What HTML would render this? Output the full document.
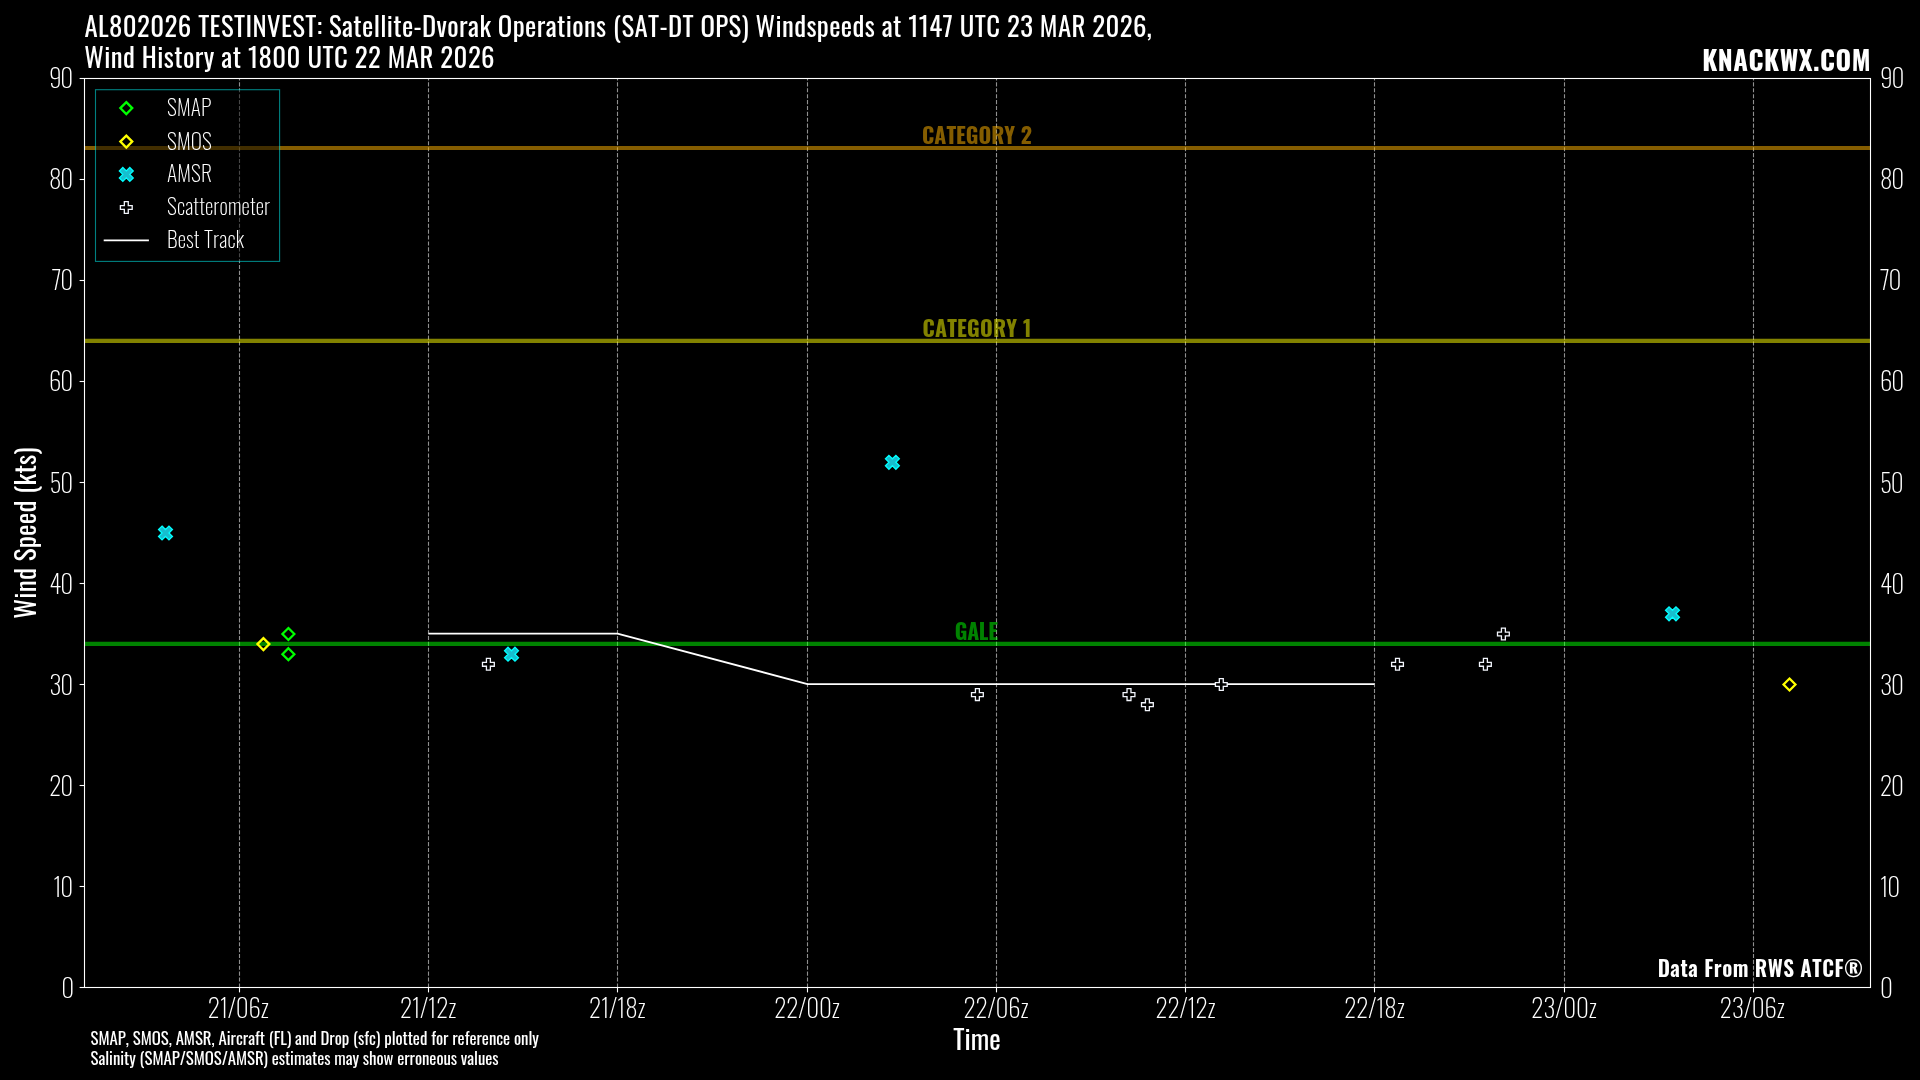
<!DOCTYPE html><html><head><meta charset="utf-8"><title>AL802026 SAT-DT OPS Windspeeds</title>
<style>html,body{margin:0;padding:0;background:#000;width:1920px;height:1080px;overflow:hidden}svg{display:block;will-change:transform}text{font-family:Oswald, 'DejaVu Sans Condensed', 'Liberation Sans', sans-serif;font-kerning:none}</style></head><body>
<svg width="1920" height="1080" viewBox="0 0 1920 1080">
<rect x="0" y="0" width="1920" height="1080" fill="#000"/>
<line x1="239.5" x2="239.5" y1="987.5" y2="78.5" stroke="#fff" stroke-opacity="0.56" stroke-width="1.1" stroke-dasharray="4.111 1.778"/>
<line x1="428.5" x2="428.5" y1="987.5" y2="78.5" stroke="#fff" stroke-opacity="0.56" stroke-width="1.1" stroke-dasharray="4.111 1.778"/>
<line x1="617.5" x2="617.5" y1="987.5" y2="78.5" stroke="#fff" stroke-opacity="0.56" stroke-width="1.1" stroke-dasharray="4.111 1.778"/>
<line x1="807.5" x2="807.5" y1="987.5" y2="78.5" stroke="#fff" stroke-opacity="0.56" stroke-width="1.1" stroke-dasharray="4.111 1.778"/>
<line x1="996.5" x2="996.5" y1="987.5" y2="78.5" stroke="#fff" stroke-opacity="0.56" stroke-width="1.1" stroke-dasharray="4.111 1.778"/>
<line x1="1185.5" x2="1185.5" y1="987.5" y2="78.5" stroke="#fff" stroke-opacity="0.56" stroke-width="1.1" stroke-dasharray="4.111 1.778"/>
<line x1="1374.5" x2="1374.5" y1="987.5" y2="78.5" stroke="#fff" stroke-opacity="0.56" stroke-width="1.1" stroke-dasharray="4.111 1.778"/>
<line x1="1564.5" x2="1564.5" y1="987.5" y2="78.5" stroke="#fff" stroke-opacity="0.56" stroke-width="1.1" stroke-dasharray="4.111 1.778"/>
<line x1="1753.5" x2="1753.5" y1="987.5" y2="78.5" stroke="#fff" stroke-opacity="0.56" stroke-width="1.1" stroke-dasharray="4.111 1.778"/>
<line x1="84.5" x2="1870.5" y1="148.00" y2="148.00" stroke="#ffb300" stroke-opacity="0.52" stroke-width="4.2"/>
<line x1="84.5" x2="1870.5" y1="340.80" y2="340.80" stroke="#ffff00" stroke-opacity="0.51" stroke-width="4.2"/>
<line x1="84.5" x2="1870.5" y1="643.90" y2="643.90" stroke="#00ff00" stroke-opacity="0.51" stroke-width="4.2"/>
<text x="977" y="143.8" font-size="21.8" font-weight="700" fill="#ffb300" text-anchor="middle" fill-opacity="0.52" textLength="109.8" lengthAdjust="spacingAndGlyphs">CATEGORY 2</text>
<text x="977" y="336.8" font-size="21.8" font-weight="700" fill="#ffff00" letter-spacing="0.2" text-anchor="middle" fill-opacity="0.51" textLength="108.98" lengthAdjust="spacingAndGlyphs">CATEGORY 1</text>
<text x="976.2" y="639.8" font-size="21.8" font-weight="700" fill="#00ff00" letter-spacing="-0.35" text-anchor="middle" fill-opacity="0.51" textLength="42.7" lengthAdjust="spacingAndGlyphs">GALE</text>
<text x="1863.5" y="976.6" font-size="21.3" font-weight="600" fill="#fff" letter-spacing="0.52" text-anchor="end" textLength="205.86" lengthAdjust="spacingAndGlyphs">Data From RWS ATCF®</text>
<polyline points="428.5,633.55 617.5,633.55 807.5,684.05 1374.5,684.05" fill="none" stroke="#fff" stroke-width="1.8" stroke-linejoin="round"/>
<path d="M263.4,638.15 L269.35,644.1 L263.4,650.05 L257.45,644.1Z" fill="none" stroke="#ffff00" stroke-width="2.3" stroke-linejoin="miter"/>
<path d="M1789.5,678.55 L1795.45,684.5 L1789.5,690.45 L1783.55,684.5Z" fill="none" stroke="#ffff00" stroke-width="2.3" stroke-linejoin="miter"/>
<path d="M288.4,628.05 L294.35,634.0 L288.4,639.95 L282.45,634.0Z" fill="none" stroke="#00ff00" stroke-width="2.3" stroke-linejoin="miter"/>
<path d="M288.4,648.25 L294.35,654.2 L288.4,660.15 L282.45,654.2Z" fill="none" stroke="#00ff00" stroke-width="2.3" stroke-linejoin="miter"/>
<path d="M162.03,526.05 L165.50,529.52 L168.97,526.05 L172.45,529.52 L168.97,533.00 L172.45,536.48 L168.97,539.95 L165.50,536.48 L162.03,539.95 L158.55,536.48 L162.03,533.00 L158.55,529.52Z" fill="#17becf" stroke="#00ffff" stroke-width="1.3" stroke-linejoin="miter"/>
<path d="M508.02,647.25 L511.50,650.73 L514.98,647.25 L518.45,650.73 L514.98,654.20 L518.45,657.68 L514.98,661.15 L511.50,657.68 L508.02,661.15 L504.55,657.68 L508.02,654.20 L504.55,650.73Z" fill="#17becf" stroke="#00ffff" stroke-width="1.3" stroke-linejoin="miter"/>
<path d="M888.92,455.35 L892.40,458.83 L895.88,455.35 L899.35,458.83 L895.88,462.30 L899.35,465.78 L895.88,469.25 L892.40,465.78 L888.92,469.25 L885.45,465.78 L888.92,462.30 L885.45,458.83Z" fill="#17becf" stroke="#00ffff" stroke-width="1.3" stroke-linejoin="miter"/>
<path d="M1669.03,606.85 L1672.50,610.32 L1675.97,606.85 L1679.45,610.32 L1675.97,613.80 L1679.45,617.27 L1675.97,620.75 L1672.50,617.27 L1669.03,620.75 L1665.55,617.27 L1669.03,613.80 L1665.55,610.32Z" fill="#17becf" stroke="#00ffff" stroke-width="1.3" stroke-linejoin="miter"/>
<path d="M486.43,658.40 L490.37,658.40 L490.37,662.33 L494.30,662.33 L494.30,666.27 L490.37,666.27 L490.37,670.20 L486.43,670.20 L486.43,666.27 L482.50,666.27 L482.50,662.33 L486.43,662.33Z" fill="#000" stroke="#f2f5fc" stroke-width="1.3" stroke-linejoin="miter"/>
<path d="M975.43,688.70 L979.37,688.70 L979.37,692.63 L983.30,692.63 L983.30,696.57 L979.37,696.57 L979.37,700.50 L975.43,700.50 L975.43,696.57 L971.50,696.57 L971.50,692.63 L975.43,692.63Z" fill="#000" stroke="#f2f5fc" stroke-width="1.3" stroke-linejoin="miter"/>
<path d="M1127.03,688.70 L1130.97,688.70 L1130.97,692.63 L1134.90,692.63 L1134.90,696.57 L1130.97,696.57 L1130.97,700.50 L1127.03,700.50 L1127.03,696.57 L1123.10,696.57 L1123.10,692.63 L1127.03,692.63Z" fill="#000" stroke="#f2f5fc" stroke-width="1.3" stroke-linejoin="miter"/>
<path d="M1145.43,698.80 L1149.37,698.80 L1149.37,702.73 L1153.30,702.73 L1153.30,706.67 L1149.37,706.67 L1149.37,710.60 L1145.43,710.60 L1145.43,706.67 L1141.50,706.67 L1141.50,702.73 L1145.43,702.73Z" fill="#000" stroke="#f2f5fc" stroke-width="1.3" stroke-linejoin="miter"/>
<path d="M1219.33,678.60 L1223.27,678.60 L1223.27,682.53 L1227.20,682.53 L1227.20,686.47 L1223.27,686.47 L1223.27,690.40 L1219.33,690.40 L1219.33,686.47 L1215.40,686.47 L1215.40,682.53 L1219.33,682.53Z" fill="#000" stroke="#f2f5fc" stroke-width="1.3" stroke-linejoin="miter"/>
<path d="M1395.53,658.40 L1399.47,658.40 L1399.47,662.33 L1403.40,662.33 L1403.40,666.27 L1399.47,666.27 L1399.47,670.20 L1395.53,670.20 L1395.53,666.27 L1391.60,666.27 L1391.60,662.33 L1395.53,662.33Z" fill="#000" stroke="#f2f5fc" stroke-width="1.3" stroke-linejoin="miter"/>
<path d="M1483.43,658.40 L1487.37,658.40 L1487.37,662.33 L1491.30,662.33 L1491.30,666.27 L1487.37,666.27 L1487.37,670.20 L1483.43,670.20 L1483.43,666.27 L1479.50,666.27 L1479.50,662.33 L1483.43,662.33Z" fill="#000" stroke="#f2f5fc" stroke-width="1.3" stroke-linejoin="miter"/>
<path d="M1501.43,628.10 L1505.37,628.10 L1505.37,632.03 L1509.30,632.03 L1509.30,635.97 L1505.37,635.97 L1505.37,639.90 L1501.43,639.90 L1501.43,635.97 L1497.50,635.97 L1497.50,632.03 L1501.43,632.03Z" fill="#000" stroke="#f2f5fc" stroke-width="1.3" stroke-linejoin="miter"/>
<rect x="84.5" y="78.5" width="1786.0" height="909.0" fill="none" stroke="#fff" stroke-width="1.1"/>
<line x1="79.6" x2="84.5" y1="987.5" y2="987.5" stroke="#fff" stroke-width="1.1"/>
<line x1="79.6" x2="84.5" y1="886.5" y2="886.5" stroke="#fff" stroke-width="1.1"/>
<line x1="79.6" x2="84.5" y1="785.5" y2="785.5" stroke="#fff" stroke-width="1.1"/>
<line x1="79.6" x2="84.5" y1="684.5" y2="684.5" stroke="#fff" stroke-width="1.1"/>
<line x1="79.6" x2="84.5" y1="583.5" y2="583.5" stroke="#fff" stroke-width="1.1"/>
<line x1="79.6" x2="84.5" y1="482.5" y2="482.5" stroke="#fff" stroke-width="1.1"/>
<line x1="79.6" x2="84.5" y1="381.5" y2="381.5" stroke="#fff" stroke-width="1.1"/>
<line x1="79.6" x2="84.5" y1="280.5" y2="280.5" stroke="#fff" stroke-width="1.1"/>
<line x1="79.6" x2="84.5" y1="179.5" y2="179.5" stroke="#fff" stroke-width="1.1"/>
<line x1="79.6" x2="84.5" y1="78.5" y2="78.5" stroke="#fff" stroke-width="1.1"/>
<line x1="239.5" x2="239.5" y1="987.5" y2="992.4" stroke="#fff" stroke-width="1.1"/>
<line x1="428.5" x2="428.5" y1="987.5" y2="992.4" stroke="#fff" stroke-width="1.1"/>
<line x1="617.5" x2="617.5" y1="987.5" y2="992.4" stroke="#fff" stroke-width="1.1"/>
<line x1="807.5" x2="807.5" y1="987.5" y2="992.4" stroke="#fff" stroke-width="1.1"/>
<line x1="996.5" x2="996.5" y1="987.5" y2="992.4" stroke="#fff" stroke-width="1.1"/>
<line x1="1185.5" x2="1185.5" y1="987.5" y2="992.4" stroke="#fff" stroke-width="1.1"/>
<line x1="1374.5" x2="1374.5" y1="987.5" y2="992.4" stroke="#fff" stroke-width="1.1"/>
<line x1="1564.5" x2="1564.5" y1="987.5" y2="992.4" stroke="#fff" stroke-width="1.1"/>
<line x1="1753.5" x2="1753.5" y1="987.5" y2="992.4" stroke="#fff" stroke-width="1.1"/>
<text x="74.2" y="997.6" font-size="25.0" font-weight="200" fill="#fff" text-anchor="end" textLength="12.94" lengthAdjust="spacingAndGlyphs">0</text>
<text x="1880.1" y="997.6" font-size="25.0" font-weight="200" fill="#fff" textLength="12.94" lengthAdjust="spacingAndGlyphs">0</text>
<text x="72.0" y="896.6" font-size="25.0" font-weight="200" fill="#fff" letter-spacing="-1.2" text-anchor="end" textLength="18.78" lengthAdjust="spacingAndGlyphs">10</text>
<text x="1880.1" y="896.6" font-size="25.0" font-weight="200" fill="#fff" letter-spacing="-1.2" textLength="18.78" lengthAdjust="spacingAndGlyphs">10</text>
<text x="72.0" y="795.6" font-size="25.0" font-weight="200" fill="#fff" letter-spacing="-1.2" text-anchor="end" textLength="22.77" lengthAdjust="spacingAndGlyphs">20</text>
<text x="1880.1" y="795.6" font-size="25.0" font-weight="200" fill="#fff" letter-spacing="-1.2" textLength="22.77" lengthAdjust="spacingAndGlyphs">20</text>
<text x="72.0" y="694.6" font-size="25.0" font-weight="200" fill="#fff" letter-spacing="-1.2" text-anchor="end" textLength="22.66" lengthAdjust="spacingAndGlyphs">30</text>
<text x="1880.1" y="694.6" font-size="25.0" font-weight="200" fill="#fff" letter-spacing="-1.2" textLength="22.66" lengthAdjust="spacingAndGlyphs">30</text>
<text x="72.0" y="593.6" font-size="25.0" font-weight="200" fill="#fff" letter-spacing="-1.2" text-anchor="end" textLength="22.86" lengthAdjust="spacingAndGlyphs">40</text>
<text x="1880.1" y="593.6" font-size="25.0" font-weight="200" fill="#fff" letter-spacing="-1.2" textLength="22.86" lengthAdjust="spacingAndGlyphs">40</text>
<text x="72.0" y="492.6" font-size="25.0" font-weight="200" fill="#fff" letter-spacing="-1.2" text-anchor="end" textLength="22.45" lengthAdjust="spacingAndGlyphs">50</text>
<text x="1880.1" y="492.6" font-size="25.0" font-weight="200" fill="#fff" letter-spacing="-1.2" textLength="22.45" lengthAdjust="spacingAndGlyphs">50</text>
<text x="72.0" y="390.6" font-size="25.0" font-weight="200" fill="#fff" letter-spacing="-1.2" text-anchor="end" textLength="22.94" lengthAdjust="spacingAndGlyphs">60</text>
<text x="1880.1" y="390.6" font-size="25.0" font-weight="200" fill="#fff" letter-spacing="-1.2" textLength="22.94" lengthAdjust="spacingAndGlyphs">60</text>
<text x="72.0" y="289.6" font-size="25.0" font-weight="200" fill="#fff" letter-spacing="-1.2" text-anchor="end" textLength="20.19" lengthAdjust="spacingAndGlyphs">70</text>
<text x="1880.1" y="289.6" font-size="25.0" font-weight="200" fill="#fff" letter-spacing="-1.2" textLength="20.19" lengthAdjust="spacingAndGlyphs">70</text>
<text x="72.0" y="188.6" font-size="25.0" font-weight="200" fill="#fff" letter-spacing="-1.2" text-anchor="end" textLength="23.02" lengthAdjust="spacingAndGlyphs">80</text>
<text x="1880.1" y="188.6" font-size="25.0" font-weight="200" fill="#fff" letter-spacing="-1.2" textLength="23.02" lengthAdjust="spacingAndGlyphs">80</text>
<text x="72.0" y="87.6" font-size="25.0" font-weight="200" fill="#fff" letter-spacing="-1.2" text-anchor="end" textLength="23.06" lengthAdjust="spacingAndGlyphs">90</text>
<text x="1880.1" y="87.6" font-size="25.0" font-weight="200" fill="#fff" letter-spacing="-1.2" textLength="23.06" lengthAdjust="spacingAndGlyphs">90</text>
<text x="238.2" y="1017.7" font-size="25.0" font-weight="200" fill="#fff" letter-spacing="-0.2" text-anchor="middle" textLength="60.95" lengthAdjust="spacingAndGlyphs">21/06z</text>
<text x="428.05" y="1017.7" font-size="25.0" font-weight="200" fill="#fff" letter-spacing="-0.2" text-anchor="middle" textLength="56.11" lengthAdjust="spacingAndGlyphs">21/12z</text>
<text x="617.2" y="1017.7" font-size="25.0" font-weight="200" fill="#fff" letter-spacing="-0.2" text-anchor="middle" textLength="56.36" lengthAdjust="spacingAndGlyphs">21/18z</text>
<text x="806.95" y="1017.7" font-size="25.0" font-weight="200" fill="#fff" letter-spacing="-0.2" text-anchor="middle" textLength="65.45" lengthAdjust="spacingAndGlyphs">22/00z</text>
<text x="995.95" y="1017.7" font-size="25.0" font-weight="200" fill="#fff" letter-spacing="-0.2" text-anchor="middle" textLength="64.94" lengthAdjust="spacingAndGlyphs">22/06z</text>
<text x="1185.45" y="1017.7" font-size="25.0" font-weight="200" fill="#fff" letter-spacing="-0.2" text-anchor="middle" textLength="60.08" lengthAdjust="spacingAndGlyphs">22/12z</text>
<text x="1374.4" y="1017.7" font-size="25.0" font-weight="200" fill="#fff" letter-spacing="-0.2" text-anchor="middle" textLength="60.33" lengthAdjust="spacingAndGlyphs">22/18z</text>
<text x="1563.9" y="1017.7" font-size="25.0" font-weight="200" fill="#fff" letter-spacing="-0.2" text-anchor="middle" textLength="65.36" lengthAdjust="spacingAndGlyphs">23/00z</text>
<text x="1752.2" y="1017.7" font-size="25.0" font-weight="200" fill="#fff" letter-spacing="-0.2" text-anchor="middle" textLength="64.83" lengthAdjust="spacingAndGlyphs">23/06z</text>
<text x="977" y="1049.9" font-size="27.2" font-weight="400" fill="#fff" text-anchor="middle" textLength="47.39" lengthAdjust="spacingAndGlyphs">Time</text>
<text transform="translate(36.1,533) rotate(-90)" font-size="27.2" font-weight="400" fill="#fff" letter-spacing="0.24" text-anchor="middle" textLength="171.56" lengthAdjust="spacingAndGlyphs">Wind Speed (kts)</text>
<text x="84.5" y="36.7" font-size="26.8" font-weight="400" fill="#fff" letter-spacing="0.39" textLength="1067.72" lengthAdjust="spacingAndGlyphs">AL802026 TESTINVEST: Satellite-Dvorak Operations (SAT-DT OPS) Windspeeds at 1147 UTC 23 MAR 2026,</text>
<text x="84.2" y="68.4" font-size="26.8" font-weight="400" fill="#fff" letter-spacing="0.43" textLength="410.84" lengthAdjust="spacingAndGlyphs">Wind History at 1800 UTC 22 MAR 2026</text>
<text x="1871.0" y="70.8" font-size="26.7" font-weight="700" fill="#fff" letter-spacing="0.5" text-anchor="end" textLength="168.78" lengthAdjust="spacingAndGlyphs">KNACKWX.COM</text>
<text x="90.6" y="1044.6" font-size="16.8" font-weight="400" fill="#fff" letter-spacing="-0.02" textLength="448.23" lengthAdjust="spacingAndGlyphs">SMAP, SMOS, AMSR, Aircraft (FL) and Drop (sfc) plotted for reference only</text>
<text x="90.6" y="1065.3" font-size="16.8" font-weight="400" fill="#fff" letter-spacing="-0.04" textLength="407.94" lengthAdjust="spacingAndGlyphs">Salinity (SMAP/SMOS/AMSR) estimates may show erroneous values</text>
<rect x="95.5" y="89.7" width="184.1" height="171.7" fill="#000" fill-opacity="0.5" stroke="#00ffff" stroke-opacity="0.5" stroke-width="1.1"/>
<path d="M126.3,102.15 L132.25,108.1 L126.3,114.05 L120.35,108.1Z" fill="none" stroke="#00ff00" stroke-width="2.3" stroke-linejoin="miter"/>
<path d="M126.3,135.65 L132.25,141.6 L126.3,147.55 L120.35,141.6Z" fill="none" stroke="#ffff00" stroke-width="2.3" stroke-linejoin="miter"/>
<path d="M122.83,167.45 L126.30,170.93 L129.78,167.45 L133.25,170.93 L129.78,174.40 L133.25,177.88 L129.78,181.35 L126.30,177.88 L122.83,181.35 L119.35,177.88 L122.83,174.40 L119.35,170.93Z" fill="#17becf" stroke="#00ffff" stroke-width="1.3" stroke-linejoin="miter"/>
<path d="M124.33,201.60 L128.27,201.60 L128.27,205.53 L132.20,205.53 L132.20,209.47 L128.27,209.47 L128.27,213.40 L124.33,213.40 L124.33,209.47 L120.40,209.47 L120.40,205.53 L124.33,205.53Z" fill="#000" stroke="#f2f5fc" stroke-width="1.3" stroke-linejoin="miter"/>
<line x1="103.7" x2="148.9" y1="240.4" y2="240.4" stroke="#fff" stroke-width="1.7"/>
<text x="167.0" y="116.0" font-size="21.6" font-weight="200" fill="#fff" letter-spacing="0.15" textLength="44.59" lengthAdjust="spacingAndGlyphs">SMAP</text>
<text x="167.0" y="149.5" font-size="21.6" font-weight="200" fill="#fff" letter-spacing="0.15" textLength="44.92" lengthAdjust="spacingAndGlyphs">SMOS</text>
<text x="167.0" y="182.3" font-size="21.6" font-weight="200" fill="#fff" letter-spacing="0.15" textLength="45.09" lengthAdjust="spacingAndGlyphs">AMSR</text>
<text x="167.0" y="215.4" font-size="21.6" font-weight="200" fill="#fff" letter-spacing="0.15" textLength="103.41" lengthAdjust="spacingAndGlyphs">Scatterometer</text>
<text x="167.0" y="248.3" font-size="21.6" font-weight="200" fill="#fff" letter-spacing="0.15" textLength="77.12" lengthAdjust="spacingAndGlyphs">Best Track</text>
</svg></body></html>
